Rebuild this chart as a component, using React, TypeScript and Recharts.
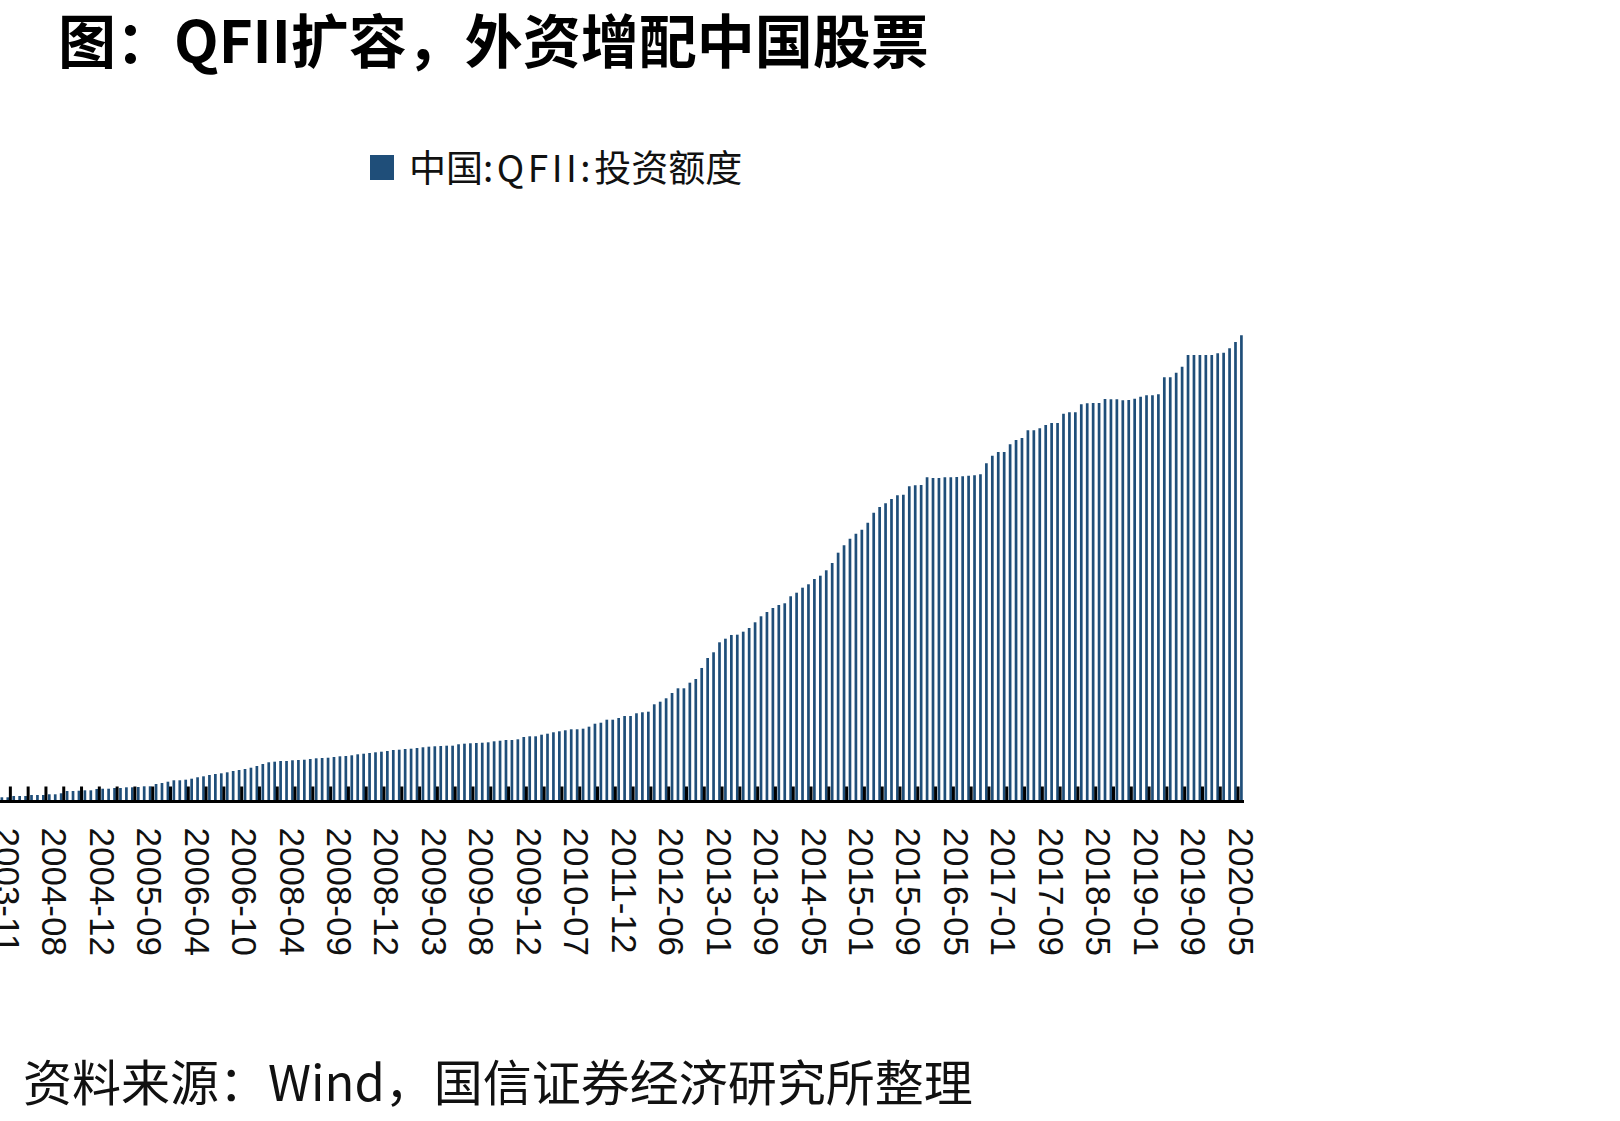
import { BarChart, Bar, XAxis, YAxis, Legend } from "recharts";

// every 8th bar carries a date label
const tickLabels = [
  "2003-11", "2004-08", "2004-12", "2005-09", "2006-04", "2006-10", "2008-04",
  "2008-09", "2008-12", "2009-03", "2009-08", "2009-12", "2010-07", "2011-12",
  "2012-06", "2013-01", "2013-09", "2014-05", "2015-01", "2015-09", "2016-05",
  "2017-01", "2017-09", "2018-05", "2019-01", "2019-09", "2020-05",
];

// 中国:QFII:投资额度, 亿美元
const quota = [
  10.5, 10.5, 13.7, 13.7, 13.7, 16.2, 16.2, 16.2, 18.0, 18.0,
  20.5, 26.2, 26.2, 26.9, 27.9, 27.9, 31.2, 31.9, 31.9, 33.7,
  33.7, 35.4, 35.4, 36.2, 37.9, 37.9, 43.6, 46.1, 49.4, 52.9,
  52.9, 54.4, 56.9, 60.4, 62.8, 66.1, 68.6, 70.3, 72.8, 76.1,
  78.6, 81.1, 84.3, 88.5, 93.5, 97.8, 99.3, 101.0, 101.0, 102.8,
  103.5, 104.2, 106.0, 107.7, 108.5, 109.2, 111.0, 112.7, 113.5, 115.2,
  117.7, 119.2, 121.0, 122.7, 124.2, 125.9, 128.4, 129.2, 130.9, 131.7,
  133.4, 135.2, 136.7, 137.7, 138.4, 139.2, 139.2, 142.7, 144.2, 145.2,
  145.9, 146.6, 147.6, 150.1, 151.6, 153.4, 153.4, 155.1, 160.9, 162.6,
  162.6, 166.6, 169.1, 172.6, 175.1, 177.6, 180.1, 180.1, 181.6, 186.6,
  194.0, 196.5, 204.0, 204.0, 208.2, 213.2, 213.2, 220.0, 222.5, 224.0,
  242.4, 248.9, 257.4, 270.6, 282.3, 282.3, 296.3, 305.5, 333.0, 357.9,
  372.1, 397.0, 406.0, 415.3, 416.0, 423.5, 432.7, 446.9, 461.9, 472.6,
  482.6, 490.1, 494.3, 511.8, 520.7, 533.2, 541.7, 554.9, 563.1, 576.6,
  594.8, 620.5, 639.0, 655.4, 667.9, 677.9, 695.3, 720.3, 734.5, 743.7,
  754.4, 763.7, 765.2, 786.1, 788.6, 789.3, 808.6, 806.8, 806.8, 808.6,
  808.6, 809.3, 811.1, 812.5, 813.5, 816.0, 843.5, 862.4, 871.7, 871.7,
  890.9, 901.6, 906.6, 925.8, 925.8, 930.8, 939.0, 944.0, 944.0, 967.2,
  970.7, 970.7, 990.6, 993.1, 993.9, 993.9, 1003.8, 1003.1, 1003.1, 1000.6,
  1001.3, 1004.6, 1009.6, 1013.1, 1013.1, 1015.6, 1058.0, 1058.0, 1069.4, 1084.4,
  1113.6, 1113.6, 1113.6, 1113.6, 1113.6, 1117.8, 1119.3, 1130.3, 1146.0, 1162.7,
];

const data = quota.map((v, i) => ({
  i,
  date: (i - 1) % 8 === 0 ? tickLabels[(i - 1) / 8] : "",
  quota: v,
}));

const BLUE = "#1F4E79";
const CJK = "'Noto Sans CJK SC', sans-serif";

const CHART_W = 1300;
const CHART_H = 1121;
const M_LEFT = 28.5;
const PLOT_W = 1245.5;
const BAND = PLOT_W / quota.length;

const AxisTick = (props: any) => {
  const { x, y, payload } = props;
  const i = payload.value as number;
  const row = data[i];
  return (
    <g>
      {i % 3 === 1 && (
        <line x1={x + BAND / 2} x2={x + BAND / 2} y1={y - 15} y2={y} stroke="#000" strokeWidth={3} />
      )}
      {row && row.date && (
        <text
          transform={`translate(${x},${y + 26}) rotate(90)`}
          textAnchor="start"
          dominantBaseline="central"
          fontFamily="'Liberation Sans', Arial, sans-serif"
          fontSize={35}
          fill="#111"
        >
          {row.date}
        </text>
      )}
    </g>
  );
};

const renderLegend = () => (
  <div style={{ display: "flex", alignItems: "center", height: 40 }}>
    <span style={{ display: "inline-block", width: 24, height: 25, background: BLUE, marginRight: 15, marginTop: 2 }} />
    <span style={{ fontFamily: CJK, fontSize: 37, lineHeight: "40px", color: "#111", whiteSpace: "nowrap" }}>
      中国<span style={{ letterSpacing: 3.5 }}>:QFII:</span>投资额度
    </span>
  </div>
);

export default function App() {
  return (
    <div style={{ position: "absolute", left: 0, top: 0, width: 1620, height: 1121, overflow: "hidden", background: "#fff" }}>
      <svg width={1620} height={1121} style={{ position: "absolute", left: 0, top: 0 }}>
        <text x={58} y={63} fontFamily={CJK} fontWeight={700} fontSize={58} fill="#000">
          图：QFII扩容，外资增配中国股票
        </text>
        <text x={23} y={1101} fontFamily={CJK} fontSize={49} fill="#111">
          资料来源：Wind，国信证券经济研究所整理
        </text>
      </svg>
      <div style={{ position: "absolute", left: -30, top: 0 }}>
        <BarChart
          width={CHART_W}
          height={CHART_H}
          data={data}
          margin={{ top: 320.3, right: CHART_W - M_LEFT - PLOT_W, bottom: 179.5, left: M_LEFT }}
          barSize={2.7}
        >
          <YAxis hide domain={[0, 1200]} />
          <Bar dataKey="quota" name="中国:QFII:投资额度" fill={BLUE} isAnimationActive={false} />
          <XAxis
            dataKey="i"
            interval={0}
            height={140}
            tickSize={0}
            tickMargin={0}
            tickLine={false}
            axisLine={{ stroke: "#000", strokeWidth: 3 }}
            tick={<AxisTick />}
          />
          <Legend
            layout="horizontal"
            verticalAlign="middle"
            align="center"
            content={renderLegend}
            wrapperStyle={{ left: 400, top: 146, width: "auto", height: 40 }}
          />
        </BarChart>
      </div>
    </div>
  );
}
